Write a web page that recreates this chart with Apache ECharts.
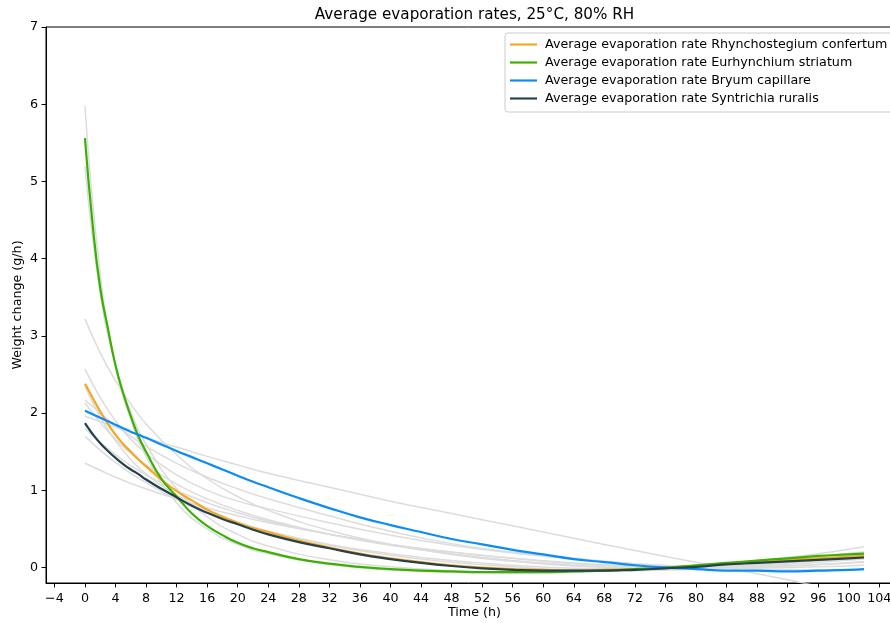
<!DOCTYPE html>
<html>
<head>
<meta charset="utf-8">
<script src="https://cdn.jsdelivr.net/npm/echarts@6/dist/echarts.min.js"></script>
<style>html,body{margin:0;padding:0;background:#fff}#c{width:890px;height:623px}</style>
</head>
<body>
<div id="c"></div>
<script>
// ---- data ----
const T = [0,1,2,3,4,5,6,7,8,10,12,14,16,18,20,22,24,28,32,36,40,44,48,52,56,60,64,68,72,76,80,84,88,92,96,100,102];
const rhynchostegium = [2.38,2.20,2.02,1.86,1.72,1.60,1.50,1.40,1.31,1.14,0.99,0.87,0.75,0.66,0.58,0.51,0.46,0.35,0.26,0.18,0.12,0.07,0.03,0.00,-0.02,-0.03,-0.04,-0.03,-0.02,0.00,0.02,0.05,0.07,0.10,0.12,0.14,0.15];
const eurhynchium = [5.56,4.45,3.62,3.10,2.62,2.26,1.96,1.70,1.50,1.15,0.92,0.70,0.54,0.42,0.32,0.25,0.20,0.11,0.05,0.01,-0.02,-0.04,-0.05,-0.06,-0.06,-0.06,-0.05,-0.04,-0.02,0.00,0.03,0.06,0.09,0.12,0.15,0.17,0.18];
const bryum = [2.03,1.985,1.94,1.895,1.85,1.805,1.76,1.72,1.68,1.595,1.51,1.43,1.35,1.27,1.19,1.11,1.04,0.90,0.77,0.65,0.55,0.46,0.37,0.30,0.23,0.17,0.11,0.07,0.03,0.00,-0.02,-0.04,-0.04,-0.05,-0.04,-0.03,-0.02];
const syntrichia = [1.87,1.73,1.61,1.51,1.42,1.34,1.27,1.21,1.14,1.02,0.91,0.80,0.71,0.63,0.56,0.49,0.43,0.33,0.25,0.17,0.11,0.06,0.02,-0.01,-0.03,-0.04,-0.04,-0.04,-0.03,-0.01,0.01,0.04,0.06,0.08,0.10,0.12,0.13];

const T_GRAY = [0,2,4,6,8,12,16,20,24,32,40,48,56,64,72,80,88,96,102];
const sample1 = [5.98,3.80,2.60,1.92,1.44,0.84,0.50,0.30,0.18,0.04,-0.03,-0.06,-0.07,-0.06,-0.03,0.02,0.08,0.15,0.20];
const sample2 = [5.20,3.55,2.62,2.02,1.60,1.02,0.66,0.43,0.28,0.10,0.01,-0.04,-0.06,-0.05,-0.03,0.01,0.06,0.12,0.17];
const sample3 = [3.22,2.78,2.42,2.12,1.86,1.46,1.15,0.92,0.74,0.48,0.30,0.17,0.08,0.02,0.00,0.03,0.09,0.18,0.27];
const sample4 = [2.57,2.20,1.90,1.66,1.48,1.20,1.00,0.86,0.76,0.58,0.42,0.29,0.19,0.11,0.05,0.01,0.00,0.01,0.03];
const sample5 = [2.17,2.00,1.84,1.70,1.57,1.35,1.17,1.02,0.89,0.67,0.47,0.31,0.20,0.12,0.05,0.01,-0.02,-0.03,-0.03];
const sample6 = [1.96,1.89,1.82,1.75,1.68,1.56,1.44,1.33,1.22,1.04,0.86,0.70,0.54,0.38,0.22,0.07,-0.08,-0.24,-0.36];
const sample7 = [1.80,1.62,1.46,1.32,1.20,1.00,0.84,0.71,0.60,0.43,0.30,0.20,0.12,0.06,0.02,0.00,0.01,0.04,0.07];
const sample8 = [1.70,1.52,1.36,1.22,1.10,0.88,0.71,0.58,0.47,0.30,0.18,0.09,0.03,-0.01,-0.02,-0.01,0.02,0.07,0.11];
const sample9 = [1.35,1.26,1.17,1.09,1.02,0.89,0.77,0.67,0.58,0.43,0.30,0.20,0.12,0.05,0.01,-0.01,0.00,0.04,0.08];
const sample10 = [2.35,1.95,1.64,1.40,1.21,0.94,0.74,0.59,0.47,0.29,0.16,0.07,0.01,-0.03,-0.04,-0.02,0.03,0.09,0.14];
const sample11 = [2.13,1.88,1.66,1.48,1.33,1.08,0.89,0.74,0.62,0.43,0.29,0.18,0.09,0.03,0.00,0.00,0.04,0.10,0.16];

const xTicks = [-4,0,4,8,12,16,20,24,28,32,36,40,44,48,52,56,60,64,68,72,76,80,84,88,92,96,100,104];
const yTicks = [0,1,2,3,4,5,6,7];

const names = [
  'Average evaporation rate Rhynchostegium confertum',
  'Average evaporation rate Eurhynchium striatum',
  'Average evaporation rate Bryum capillare',
  'Average evaporation rate Syntrichia ruralis'
];
const mainValues = [rhynchostegium, eurhynchium, bryum, syntrichia];
const colors = ['#f5a623', '#3cb000', '#0a8cf5', '#23424a'];
const grays = [sample1,sample2,sample3,sample4,sample5,sample6,sample7,sample8,sample9,sample10,sample11];

// ---- chart ----
const FONT = 'DejaVu Sans';
const pair = (xs, ys) => xs.map((x, i) => [x, ys[i]]);
const series = [];
grays.forEach((g, i) => series.push({
  type: 'line', name: 'sample' + (i + 1), data: pair(T_GRAY, g),
  smooth: 0.5, symbol: 'none', silent: true, clip: true,
  lineStyle: { color: '#dcdcdc', width: 1.5 }, z: 1
}));
mainValues.forEach((v, i) => series.push({
  type: 'line', name: names[i], data: pair(T, v),
  smooth: 0.5, symbol: 'none', clip: true,
  lineStyle: { color: colors[i], width: 2.2 }, itemStyle: { color: colors[i] }, z: 2 + i
}));

const chart = echarts.init(document.getElementById('c'), null, { renderer: 'canvas' });
chart.setOption({
  animation: false,
  backgroundColor: '#fff',
  textStyle: { fontFamily: FONT },
  title: {
    text: 'Average evaporation rates, 25°C, 80% RH',
    left: 474.5, top: 8, padding: 0, textAlign: 'center',
    textStyle: { fontFamily: FONT, fontSize: 15.2, fontWeight: 'normal', color: '#000' }
  },
  legend: {
    data: names, orient: 'vertical', left: 505, top: 33,
    padding: [5, 16, 7, 5], itemWidth: 27, itemHeight: 14, itemGap: 5,
    icon: 'path://M0,0 H100 V8 H0 Z',
    borderColor: '#cccccc', borderWidth: 1, borderRadius: 3,
    backgroundColor: 'rgba(255,255,255,0.8)',
    textStyle: { fontFamily: FONT, fontSize: 12.7, color: '#000', padding: [0, 0, 0, 3] }
  },
  grid: { left: 46, top: 27, width: 857, height: 556, show: true, borderColor: '#000', borderWidth: 1,
    containLabel: false, outerBoundsMode: 'none' },
  xAxis: {
    type: 'value', min: -5.1, max: 107.1,
    name: 'Time (h)', nameLocation: 'middle', nameGap: 23, nameMoveOverlap: false,
    nameTextStyle: { fontFamily: FONT, fontSize: 12.7, color: '#000' },
    axisLine: { show: true, onZero: false, lineStyle: { color: '#000', width: 1 } },
    axisTick: { show: true, length: 4.4, customValues: xTicks, lineStyle: { color: '#000' } },
    axisLabel: { customValues: xTicks, margin: 9, fontFamily: FONT, fontSize: 12.7, color: '#000',
      formatter: v => String(v).replace('-', '\u2212') },
    splitLine: { show: false }
  },
  yAxis: {
    type: 'value', min: -0.2, max: 7,
    name: 'Weight change (g/h)', nameLocation: 'middle', nameGap: 22, nameRotate: 90, nameMoveOverlap: false,
    nameTextStyle: { fontFamily: FONT, fontSize: 12.7, color: '#000' },
    axisLine: { show: true, onZero: false, lineStyle: { color: '#000', width: 1 } },
    axisTick: { show: true, length: 4.4, customValues: yTicks, lineStyle: { color: '#000' } },
    axisLabel: { customValues: yTicks, margin: 8, fontFamily: FONT, fontSize: 12.7, color: '#000' },
    splitLine: { show: false }
  },
  series: series
});
</script>
</body>
</html>
